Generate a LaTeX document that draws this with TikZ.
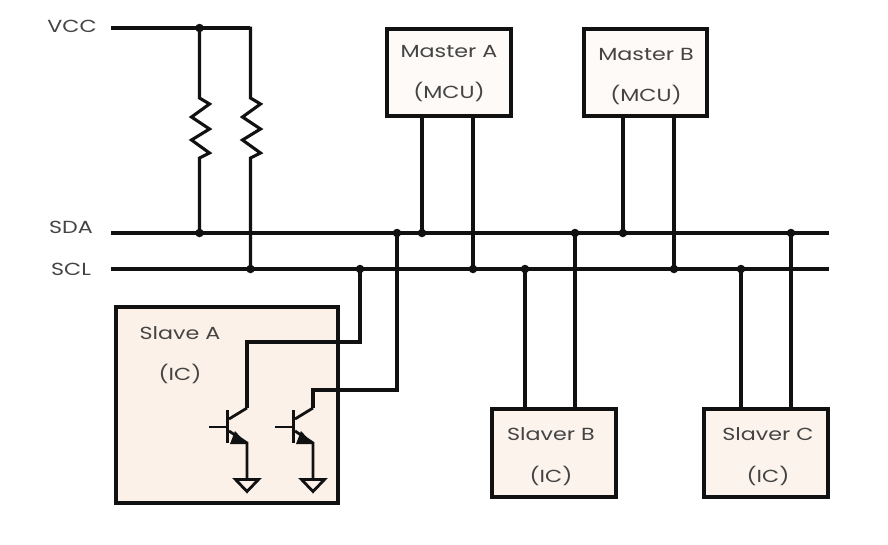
\documentclass[tikz,border=0pt]{standalone}
\usepackage{fontspec}
\setmainfont[FakeStretch=1.27]{Poppins}
\definecolor{ink}{HTML}{111111}
\definecolor{txt}{HTML}{444444}
\definecolor{chip}{HTML}{FBF1E8}
\definecolor{chipb}{HTML}{FCF4EC}
\definecolor{chipm}{HTML}{FDFAF7}
\begin{document}
\begin{tikzpicture}[x=1pt,y=-1pt,
  wire/.style={draw=ink,line width=3.1pt,line join=miter},
  thin wire/.style={draw=ink,line width=2.8pt},
  dotj/.style={circle,fill=ink,inner sep=0pt,minimum size=8.5pt},
  boxn/.style={draw=ink,line width=3.6pt,inner sep=0pt,anchor=north west},
  lab/.style={text=txt,font=\fontsize{17.5}{19}\selectfont,inner sep=0pt},
  res/.style={draw=ink,line width=3.1pt,line join=miter}]
\useasboundingbox (0,0) rectangle (888,544);
% boxes
\node[boxn,fill=chip,minimum width=222pt,minimum height=196pt] (slaveA) at (114,305) {};
\node[boxn,fill=chipm,minimum width=124pt,minimum height=87pt] (masterA) at (385,27) {};
\node[boxn,fill=chipm,minimum width=123pt,minimum height=87pt] (masterB) at (582,27) {};
\node[boxn,fill=chipb,minimum width=124pt,minimum height=88pt] (slaverB) at (490,407) {};
\node[boxn,fill=chipb,minimum width=124pt,minimum height=88pt] (slaverC) at (702,407) {};
% labels
\node[lab] (tvcc) at (72,26) {VCC};
\node[lab] (tsda) at (71,227) {SDA};
\node[lab] (tscl) at (71,269) {SCL};
\node[lab] (tma) at (449,52) {Master A};
\node[lab] (tmai) at (449,92) {(MCU)};
\node[lab] (tmb) at (646,54) {Master B};
\node[lab] (tmbi) at (646,95) {(MCU)};
\node[lab] (tsa) at (180,333) {Slave A};
\node[lab] (tsai) at (180,374) {(IC)};
\node[lab] (tsb) at (551,434) {Slaver B};
\node[lab] (tsbi) at (551,476) {(IC)};
\node[lab] (tsc) at (768,434) {Slaver C};
\node[lab] (tsci) at (768,476) {(IC)};
% bus ends
\coordinate (vccL) at (111,28);
\coordinate (vccR) at (250,28);
\coordinate (sdaL) at (111,233);
\coordinate (sdaR) at (829,233);
\coordinate (sclL) at (111,269);
\coordinate (sclR) at (829,269);
% junctions
\node[dotj] (jv) at (199.5,28) {};
\node[dotj] (d1) at (199.5,233) {};
\node[dotj] (d2) at (397,233) {};
\node[dotj] (d3) at (422,233) {};
\node[dotj] (d4) at (575,233) {};
\node[dotj] (d5) at (623,233) {};
\node[dotj] (d6) at (791,233) {};
\node[dotj] (c1) at (250.5,269) {};
\node[dotj] (c2) at (360,269) {};
\node[dotj] (c3) at (473,269) {};
\node[dotj] (c4) at (525,269) {};
\node[dotj] (c5) at (674,269) {};
\node[dotj] (c6) at (741,269) {};
% buses
\draw[wire] (vccL) -- (vccR);
\draw[wire] (sdaL) -- (sdaR);
\draw[wire] (sclL) -- (sclR);
% pull-ups
\draw[res] (jv.center) -- (199.5,98) -- (209.5,104) -- (191.5,117) -- (209.5,129) -- (191.5,140) -- (209.5,153) -- (199.5,158) -- (d1.center);
\draw[res] (250.5,26.5) -- (250.5,98) -- (260.5,104) -- (242.5,117) -- (260.5,129) -- (242.5,140) -- (260.5,153) -- (250.5,158) -- (c1.center);
% device stubs
\draw[wire] (d3.center) -- (d3 |- masterA.south);
\draw[wire] (c3.center) -- (c3 |- masterA.south);
\draw[wire] (d5.center) -- (d5 |- masterB.south);
\draw[wire] (c5.center) -- (c5 |- masterB.south);
\draw[wire] (c4.center) -- (c4 |- slaverB.north);
\draw[wire] (d4.center) -- (d4 |- slaverB.north);
\draw[wire] (c6.center) -- (c6 |- slaverC.north);
\draw[wire] (d6.center) -- (d6 |- slaverC.north);
% transistors
\coordinate (q1c) at (247,408);
\coordinate (q2c) at (313,408);
\draw[wire] (c2.center) -- (360,342) -- (247,342) -- (q1c);
\draw[wire] (d2.center) -- (397,390) -- (313,390) -- (q2c);
\foreach \n/\dx in {q1c/0,q2c/66}{
  \begin{scope}[xshift=\dx pt]
    \draw[thin wire] (247,408) -- (229,419);
    \draw[thin wire] (209,427) -- (227,427);
    \draw[draw=ink,line width=3pt] (227,410) -- (227,443);
    \draw[thin wire] (229,431) -- (247,443) -- (247,478);
    \fill[ink] (247,444) -- (230,444) -- (235,431) -- cycle;
    \draw[draw=ink,line width=2.8pt,line join=miter] (235.5,479.5) -- (258.5,479.5) -- (247,491.5) -- cycle;
  \end{scope}
}
\end{tikzpicture}
\end{document}
